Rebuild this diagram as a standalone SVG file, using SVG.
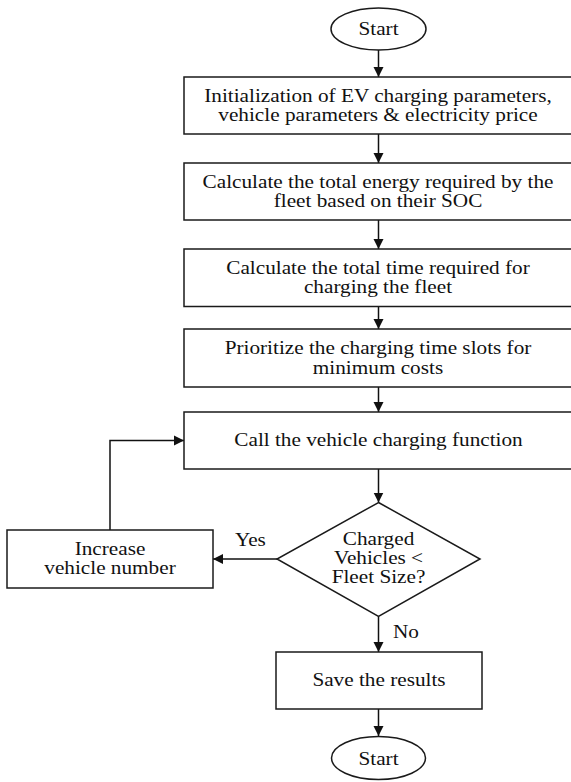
<svg xmlns="http://www.w3.org/2000/svg" width="571" height="782" viewBox="0 0 571 782">
<defs>
<style>
.s{fill:#fff;stroke:#1a1a1a;stroke-width:1.5}
.c{fill:none;stroke:#111;stroke-width:1.5}
.t{font-family:"Liberation Serif","Times New Roman",serif;font-size:18px;fill:#111;text-anchor:middle}
.l{font-family:"Liberation Serif","Times New Roman",serif;font-size:18px;fill:#111}
</style>
<marker id="ah" viewBox="0 0 10 10" refX="10" refY="5" markerWidth="10" markerHeight="11" markerUnits="userSpaceOnUse" orient="auto">
<path d="M0,0 L10,5 L0,10 Z" fill="#111"/>
</marker>
</defs>
<rect width="571" height="782" fill="#fff"/>
<g id="connectors">
<line class="c" x1="378.5" y1="50" x2="378.5" y2="77" marker-end="url(#ah)"/>
<line class="c" x1="378.5" y1="134" x2="378.5" y2="163" marker-end="url(#ah)"/>
<line class="c" x1="378.5" y1="220" x2="378.5" y2="249" marker-end="url(#ah)"/>
<line class="c" x1="378.5" y1="306.5" x2="378.5" y2="329" marker-end="url(#ah)"/>
<line class="c" x1="378.5" y1="387" x2="378.5" y2="412" marker-end="url(#ah)"/>
<line class="c" x1="378.5" y1="469" x2="378.5" y2="502.5" marker-end="url(#ah)"/>
<line class="c" x1="277" y1="559" x2="213" y2="559" marker-end="url(#ah)"/>
<polyline class="c" points="110,530 110,440.5 184,440.5" marker-end="url(#ah)"/>
<line class="c" x1="378.5" y1="616.5" x2="378.5" y2="652" marker-end="url(#ah)"/>
<line class="c" x1="378.5" y1="709" x2="378.5" y2="736" marker-end="url(#ah)"/>
<text class="l" transform="translate(235 546) scale(1.18 1)">Yes</text>
<text class="l" transform="translate(393 638) scale(1.18 1)">No</text>
</g>
<g id="start">
<ellipse class="s" cx="378.5" cy="29" rx="47.5" ry="21"/>
<text class="t" transform="translate(378.5 34.5) scale(1.18 1)">Start</text>
</g>
<g id="init">
<rect class="s" x="184" y="77" width="390" height="57"/>
<text class="t" transform="translate(378 101.5) scale(1.18 1)">Initialization of EV charging parameters,</text>
<text class="t" transform="translate(378 120.5) scale(1.18 1)">vehicle parameters &amp; electricity price</text>
</g>
<g id="energy">
<rect class="s" x="184" y="163" width="390" height="57"/>
<text class="t" transform="translate(378 187.5) scale(1.18 1)">Calculate the total energy required by the</text>
<text class="t" transform="translate(378 206.5) scale(1.18 1)">fleet based on their SOC</text>
</g>
<g id="time">
<rect class="s" x="184" y="249" width="390" height="57.5"/>
<text class="t" transform="translate(378 274) scale(1.18 1)">Calculate the total time required for</text>
<text class="t" transform="translate(378 293) scale(1.18 1)">charging the fleet</text>
</g>
<g id="prioritize">
<rect class="s" x="184" y="329" width="390" height="58"/>
<text class="t" transform="translate(378 354) scale(1.18 1)">Prioritize the charging time slots for</text>
<text class="t" transform="translate(378 373.5) scale(1.18 1)">minimum costs</text>
</g>
<g id="call">
<rect class="s" x="184" y="412" width="390" height="57"/>
<text class="t" transform="translate(378.5 446) scale(1.18 1)">Call the vehicle charging function</text>
</g>
<g id="decision">
<polygon class="s" points="378.5,502.5 480,559 378.5,616.5 277,559"/>
<text class="t" transform="translate(378.5 545) scale(1.18 1)">Charged</text>
<text class="t" transform="translate(378.5 564) scale(1.18 1)">Vehicles &lt;</text>
<text class="t" transform="translate(378.5 583) scale(1.18 1)">Fleet Size?</text>
</g>
<g id="increase">
<rect class="s" x="7" y="530" width="206" height="58"/>
<text class="t" transform="translate(110 555) scale(1.18 1)">Increase</text>
<text class="t" transform="translate(110 574) scale(1.18 1)">vehicle number</text>
</g>
<g id="save">
<rect class="s" x="276" y="652" width="206" height="57"/>
<text class="t" transform="translate(379 685.5) scale(1.18 1)">Save the results</text>
</g>
<g id="end">
<ellipse class="s" cx="378.5" cy="758" rx="47" ry="21.5"/>
<text class="t" transform="translate(378.5 765) scale(1.18 1)">Start</text>
</g>
</svg>
